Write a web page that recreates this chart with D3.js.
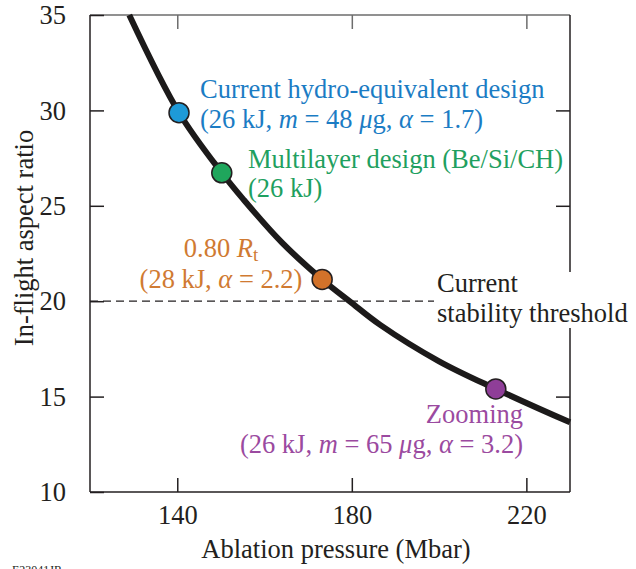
<!DOCTYPE html>
<html lang="en">
<head>
<meta charset="UTF-8">
<title>Aspect ratio vs ablation pressure</title>
<script src="https://cdn.jsdelivr.net/npm/d3@7"></script>
<style>
  body { margin: 0; background: #fff; }
  svg text { font-family: "Liberation Serif", "DejaVu Serif", serif; }
</style>
</head>
<body>
<svg id="chart" width="636" height="569"></svg>

<script>
// data
var pressure = [129.0, 140.4, 150.2, 155.1, 164.0, 173.2, 179.6, 186.5, 200.0, 213.0, 230.0];
var aspect   = [35.0, 29.88, 26.73, 25.35, 23.07, 21.14, 19.98, 18.76, 16.85, 15.40, 13.65];

var designNames = ["hydro", "multilayer", "r080", "zooming"];
var designP     = [140.4, 150.2, 173.2, 213.0];
var designA     = [29.88, 26.73, 21.14, 15.40];
var designFill  = ["#1e9ad8", "#1fa65c", "#d2722a", "#8f3e98"];

var threshold = 20;
var xTicks = [140, 180, 220];
var yTicks = [10, 15, 20, 25, 30, 35];

var svg = d3.select("#chart"),
    plotL = 90, plotR = 570, plotT = 15, plotB = 492,
    axisColor = "#231f20",
    fs = 26.5;

var x = d3.scaleLinear().domain([120, 230]).range([plotL, plotR]);
var y = d3.scaleLinear().domain([10, 35]).range([plotB, plotT]);

// frame
svg.append("line").attr("x1", plotL).attr("x2", plotR).attr("y1", plotT).attr("y2", plotT)
  .attr("stroke", "#6d6d6d").attr("stroke-width", 1.5);
svg.append("line").attr("x1", plotL).attr("x2", plotR).attr("y1", plotB).attr("y2", plotB)
  .attr("stroke", axisColor).attr("stroke-width", 1.5);
svg.append("line").attr("x1", plotL).attr("x2", plotL).attr("y1", plotT).attr("y2", plotB)
  .attr("stroke", axisColor).attr("stroke-width", 1.5);
svg.append("line").attr("x1", plotR).attr("x2", plotR).attr("y1", plotT).attr("y2", plotB)
  .attr("stroke", axisColor).attr("stroke-width", 1.5);

// axes with inside ticks
var xAxis = svg.append("g").attr("transform", "translate(0," + plotB + ")")
  .call(d3.axisBottom(x).tickValues(xTicks).tickSizeInner(-14).tickSizeOuter(0).tickPadding(13));
var xTop = svg.append("g").attr("transform", "translate(0," + plotT + ")")
  .call(d3.axisTop(x).tickValues(xTicks).tickSizeInner(-14).tickSizeOuter(0).tickFormat(""));
var yAxis = svg.append("g").attr("transform", "translate(" + plotL + ",0)")
  .call(d3.axisLeft(y).tickValues(yTicks).tickSizeInner(-14).tickSizeOuter(0).tickPadding(24));
var yRight = svg.append("g").attr("transform", "translate(" + plotR + ",0)")
  .call(d3.axisRight(y).tickValues([15, 25, 30]).tickSizeInner(-14).tickSizeOuter(0).tickFormat(""));

[xAxis, xTop, yAxis, yRight].forEach(function (g) {
  g.select(".domain").remove();
  g.selectAll(".tick line").attr("stroke", axisColor).attr("stroke-width", 1.5);
  g.selectAll(".tick text").attr("fill", axisColor).attr("font-size", fs)
    .style("font-family", "Liberation Serif, serif");
});
xTop.selectAll(".tick line").attr("stroke", "#6d6d6d");
yAxis.selectAll(".tick text").attr("dy", "0.33em");

// dashed threshold
svg.append("line")
  .attr("x1", x(120)).attr("x2", 438)
  .attr("y1", y(threshold)).attr("y2", y(threshold))
  .attr("stroke", axisColor).attr("stroke-width", 1.3)
  .attr("stroke-dasharray", "8,5");

// threshold label with white box covering the right axis
svg.append("rect").attr("x", 434).attr("y", 272).attr("width", 200).attr("height", 56).attr("fill", "#fff");
var thr = svg.append("text").attr("x", 437).attr("y", 292).attr("fill", axisColor).attr("font-size", fs);
thr.append("tspan").attr("x", 437).text("Current");
thr.append("tspan").attr("x", 437).attr("dy", 30).text("stability threshold");

// curve
var curvePts = pressure.map(function (p, i) { return [p, aspect[i]]; });
svg.append("path")
  .datum(curvePts)
  .attr("fill", "none")
  .attr("stroke", "#1c1a1a")
  .attr("stroke-width", 6)
  .attr("d", d3.line().x(function (d) { return x(d[0]); }).y(function (d) { return y(d[1]); })
    .curve(d3.curveCatmullRom));

// design points
svg.selectAll("circle.design")
  .data(designNames)
  .enter().append("circle")
  .attr("class", "design")
  .attr("cx", function (d, i) { return x(designP[i]); })
  .attr("cy", function (d, i) { return y(designA[i]); })
  .attr("r", 10)
  .attr("fill", function (d, i) { return designFill[i]; })
  .attr("stroke", "#231f20")
  .attr("stroke-width", 1.5);

// labels
function label(xp, yp, color, anchor, parts) {
  var t = svg.append("text").attr("x", xp).attr("y", yp).attr("fill", color)
    .attr("font-size", fs).attr("text-anchor", anchor);
  parts.forEach(function (p) {
    var s = t.append("tspan").text(p[0]);
    if (p[1] == "i") s.attr("font-style", "italic");
    if (p[1] == "sub") s.attr("font-size", 19).attr("dy", 4);
  });
  return t;
}

label(200, 98, "#1b7cc4", "start", [["Current hydro-equivalent design"]]);
label(200, 128, "#1b7cc4", "start", [["(26 kJ, "], ["m", "i"], [" = 48 "], ["\u03bc", "i"], ["g, "], ["\u03b1", "i"], [" = 1.7)"]]);

label(248, 168, "#1fa060", "start", [["Multilayer design (Be/Si/CH)"]]);
label(248, 197, "#1fa060", "start", [["(26 kJ)"]]);

label(221, 257, "#d07a32", "middle", [["0.80 "], ["R", "i"], ["t", "sub"]]);
label(221, 288, "#d07a32", "middle", [["(28 kJ, "], ["\u03b1", "i"], [" = 2.2)"]]);

label(523, 423, "#9b4aa0", "end", [["Zooming"]]);
label(523, 453, "#9b4aa0", "end", [["(26 kJ, "], ["m", "i"], [" = 65 "], ["\u03bc", "i"], ["g, "], ["\u03b1", "i"], [" = 3.2)"]]);

// axis titles
svg.append("text").attr("x", 336).attr("y", 558).attr("text-anchor", "middle")
  .attr("fill", axisColor).attr("font-size", fs).text("Ablation pressure (Mbar)");
svg.append("text").attr("transform", "translate(33,238) rotate(-90)").attr("text-anchor", "middle")
  .attr("fill", axisColor).attr("font-size", fs).text("In-flight aspect ratio");

svg.append("text").attr("x", 12).attr("y", 574).attr("fill", axisColor).attr("font-size", 12).text("E23041JR");
</script>
</body>
</html>
